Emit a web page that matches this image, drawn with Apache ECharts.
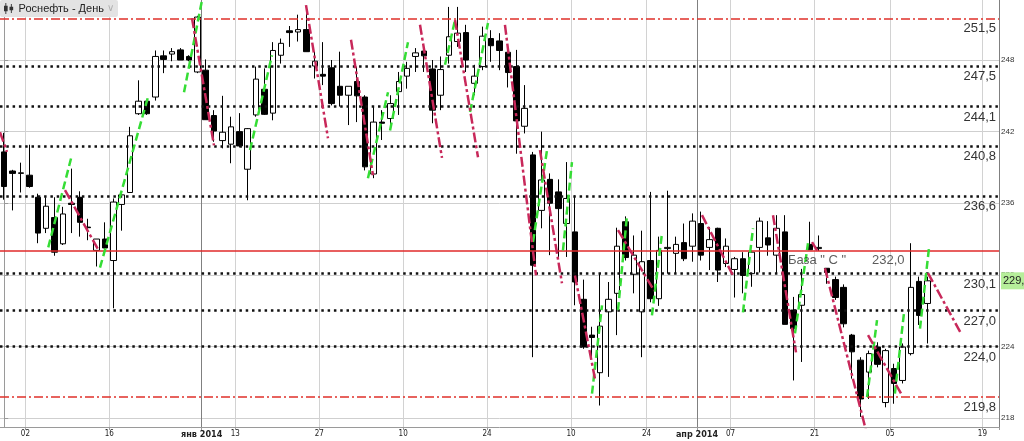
<!DOCTYPE html>
<html>
<head>
<meta charset="utf-8">
<title>Роснефть - День</title>
<script src="https://cdn.jsdelivr.net/npm/echarts@6/dist/echarts.min.js"></script>
<style>
  html, body { margin: 0; padding: 0; background: #fff; }
  #chart { width: 1024px; height: 441px; }
</style>
</head>
<body>
<div id="chart"></div>
<script>
// торговые дни (последние 8 - пустое место справа)
const dates = [
  '2013-11-27','2013-11-28','2013-11-29',
  '2013-12-02','2013-12-03','2013-12-04','2013-12-05','2013-12-06',
  '2013-12-09','2013-12-10','2013-12-11','2013-12-12','2013-12-13',
  '2013-12-16','2013-12-17','2013-12-18','2013-12-19','2013-12-20',
  '2013-12-23','2013-12-24','2013-12-25','2013-12-26','2013-12-27',
  '2013-12-30',
  '2014-01-03','2014-01-06','2014-01-09','2014-01-10',
  '2014-01-13','2014-01-14','2014-01-15','2014-01-16','2014-01-17',
  '2014-01-20','2014-01-21','2014-01-22','2014-01-23','2014-01-24',
  '2014-01-27','2014-01-28','2014-01-29','2014-01-30','2014-01-31',
  '2014-02-03','2014-02-04','2014-02-05','2014-02-06','2014-02-07',
  '2014-02-10','2014-02-11','2014-02-12','2014-02-13','2014-02-14',
  '2014-02-17','2014-02-18','2014-02-19','2014-02-20','2014-02-21',
  '2014-02-24','2014-02-25','2014-02-26','2014-02-27','2014-02-28',
  '2014-03-03','2014-03-04','2014-03-05','2014-03-06','2014-03-07',
  '2014-03-11','2014-03-12','2014-03-13','2014-03-14',
  '2014-03-17','2014-03-18','2014-03-19','2014-03-20','2014-03-21',
  '2014-03-24','2014-03-25','2014-03-26','2014-03-27','2014-03-28',
  '2014-03-31',
  '2014-04-01','2014-04-02','2014-04-03','2014-04-04',
  '2014-04-07','2014-04-08','2014-04-09','2014-04-10','2014-04-11',
  '2014-04-14','2014-04-15','2014-04-16','2014-04-17','2014-04-18',
  '2014-04-21','2014-04-22','2014-04-23','2014-04-24','2014-04-25',
  '2014-04-28','2014-04-29','2014-04-30','2014-05-02',
  '2014-05-05','2014-05-06','2014-05-07','2014-05-08','2014-05-12',
  '2014-05-13','2014-05-14','2014-05-15','2014-05-16','2014-05-17',
  '2014-05-18','2014-05-19','2014-05-20'
];

const open = [
  240.3, 238.7, 238.5, 238.35, 236.5, 233.9, 234.8, 232.6, 236.0, 236.5,
  234.0, 232.05, 233.0, 231.2, 235.9, 236.9, 243.5, 244.55, 244.9, 248.35,
  248.5, 248.85, 248.3, 247.0, 247.15, 243.35, 241.25, 240.95, 242.0, 238.85,
  243.4, 245.55, 243.55, 248.4, 250.45, 250.35, 250.55, 247.5, 246.8, 247.35,
  245.8, 245.05, 246.2, 244.9, 238.45, 242.8, 243.1, 245.35, 246.65, 248.3,
  248.75, 247.25, 245.05, 248.4, 249.55, 250.3, 246.05, 247.45, 249.8, 249.6,
  248.65, 247.45, 242.45, 240.05, 235.4, 238.0, 236.95, 234.3, 233.6, 227.95,
  224.95, 221.8, 226.9, 228.45, 234.45, 230.05, 226.9, 231.2, 228.0, 232.2,
  231.8, 232.7, 232.4, 234.3, 232.3, 233.9, 230.95, 230.45, 231.35, 230.1,
  232.3, 233.1, 231.65, 233.6, 227.05, 227.45, 232.55, 232.2, 230.55, 229.6,
  228.95, 224.95, 222.85, 221.85, 223.95, 219.3, 222.15, 221.15, 223.4, 229.45,
  227.6
];
const close = [
  237.4, 238.5, 238.55, 237.4, 233.5, 235.75, 231.9, 235.1, 235.9, 234.4,
  233.95, 233.0, 232.25, 236.1, 236.7, 241.65, 244.55, 243.5, 248.3, 248.05,
  248.7, 248.0, 248.0, 251.6, 243.0, 242.05, 241.95, 242.4, 240.8, 242.25,
  246.4, 243.45, 248.8, 249.4, 250.3, 250.55, 248.7, 247.9, 246.65, 244.35,
  245.05, 245.8, 245.0, 239.05, 242.8, 242.7, 244.35, 246.2, 247.3, 248.6,
  248.35, 243.8, 247.2, 249.95, 250.25, 248.0, 246.65, 250.0, 249.2, 248.8,
  246.95, 242.9, 243.95, 230.8, 237.95, 236.0, 235.55, 236.4, 229.4, 223.95,
  224.75, 225.7, 227.95, 232.4, 231.45, 231.65, 231.1, 228.0, 232.05, 232.3,
  232.55, 231.35, 234.5, 231.65, 232.95, 230.4, 232.4, 231.35, 229.95, 231.9,
  234.5, 232.5, 233.9, 225.85, 225.5, 228.35, 232.1, 232.3, 230.2, 228.1,
  225.9, 223.55, 219.6, 223.4, 222.5, 223.65, 220.9, 223.95, 228.95, 226.6,
  229.5
];
const low = [
  236.3, 235.4, 236.9, 237.3, 232.65, 233.5, 231.6, 232.5, 233.5, 233.2,
  232.9, 230.7, 232.1, 227.2, 233.7, 236.9, 243.4, 243.4, 244.6, 246.9,
  247.9, 248.0, 247.9, 246.9, 243.0, 241.15, 240.6, 239.35, 240.7, 236.25,
  243.25, 243.4, 242.95, 247.7, 249.1, 249.55, 248.7, 246.45, 245.9, 244.2,
  244.1, 242.55, 242.8, 238.75, 238.1, 241.3, 242.4, 243.4, 245.6, 247.0,
  247.0, 242.7, 243.8, 247.7, 249.1, 247.0, 245.05, 247.15, 247.85, 247.15,
  245.7, 240.15, 241.85, 223.1, 233.9, 231.65, 231.5, 231.5, 227.45, 223.8,
  223.1, 219.05, 221.45, 224.95, 231.2, 228.45, 223.1, 227.7, 227.4, 230.1,
  230.1, 231.15, 231.1, 231.2, 230.4, 229.4, 230.65, 228.1, 228.45, 229.0,
  230.2, 231.6, 230.1, 225.85, 221.15, 222.7, 232.1, 232.0, 229.25, 227.9,
  225.6, 221.3, 218.1, 219.6, 222.25, 218.9, 219.2, 220.9, 223.25, 225.8,
  224.25
];
const high = [
  241.9, 238.8, 239.4, 240.9, 236.8, 236.5, 236.5, 235.7, 238.9, 237.0,
  234.7, 233.0, 234.4, 236.4, 236.9, 242.4, 246.3, 244.6, 248.8, 248.8,
  249.0, 249.0, 248.4, 251.7, 248.05, 243.8, 245.0, 243.25, 243.55, 242.3,
  247.45, 247.3, 249.5, 249.8, 250.85, 251.8, 251.9, 248.7, 249.5, 248.0,
  248.7, 245.8, 247.45, 245.05, 244.1, 243.8, 245.05, 247.0, 247.85, 249.0,
  248.8, 248.0, 248.3, 252.45, 252.45, 250.95, 247.6, 250.8, 250.5, 250.25,
  248.85, 248.85, 245.9, 240.3, 242.0, 238.5, 238.0, 239.45, 236.65, 229.6,
  225.65, 230.1, 229.4, 233.95, 234.9, 233.3, 233.7, 236.95, 233.2, 237.05,
  233.2, 234.3, 235.15, 235.3, 234.0, 233.95, 233.05, 231.5, 231.9, 232.05,
  234.8, 234.5, 235.0, 235.0, 228.15, 230.5, 234.45, 233.3, 230.55, 229.85,
  229.2, 225.05, 223.1, 223.65, 224.35, 223.8, 222.55, 224.25, 232.65, 229.85,
  229.85
];

// подписи оси дат: [индекс дня, текст]
const dateTicks = [
  [3, '02'], [13, '16'], [24, 'янв 2014'], [28, '13'], [38, '27'], [48, '10'],
  [58, '24'], [68, '10'], [77, '24'], [83, 'апр 2014'], [87, '07'], [97, '21'],
  [106, '05'], [117, '19']
];
const monthStarts = [24, 83];
const priceTicks = [218, 224, 230, 236, 242, 248];

// уровни
const dottedLevels = [247.5, 244.1, 240.8, 236.6, 230.1, 227.0, 224.0];
const redLevels = [251.5, 219.8];
const baseLevel = 232.0;
const baseName = 'База " С "';

// волны: [индекс дня, цена] начало и конец
const upLegs = [
  [[5.25, 232.3], [7.96, 239.75]],
  [[11.41, 230.6], [17.13, 244.9]],
  [[21.42, 245.3], [23.56, 253.0]],
  [[29.28, 240.45], [31.9, 248.4]],
  [[43.33, 238.1], [45.72, 245.3]],
  [[45.96, 242.1], [48.1, 249.5]],
  [[52.51, 247.6], [53.7, 251.35]],
  [[55.49, 243.65], [57.63, 251.1]],
  [[62.99, 232.75], [64.66, 240.45]],
  [[66.56, 232.05], [67.63, 239.45]],
  [[70.02, 220.05], [71.21, 227.45]],
  [[73.12, 227.05], [74.19, 235.0]],
  [[77.16, 226.6], [78.36, 233.5]],
  [[88.0, 226.85], [89.2, 233.9]],
  [[94.2, 225.1], [95.75, 232.65]],
  [[102.78, 219.75], [103.97, 226.2]],
  [[106.1, 220.05], [107.18, 226.8]],
  [[109.09, 225.5], [110.16, 232.25]]
];
const downLegs = [
  [[-0.5, 241.95], [0.33, 240.3]],
  [[7.24, 237.1], [11.21, 232.1]],
  [[22.37, 251.5], [24.99, 240.85]],
  [[35.95, 252.6], [38.57, 241.45]],
  [[41.31, 249.7], [43.93, 238.35]],
  [[49.53, 250.95], [52.15, 239.8]],
  [[53.7, 251.35], [56.44, 239.85]],
  [[59.65, 250.95], [63.35, 229.95]],
  [[63.82, 240.45], [66.44, 229.3]],
  [[67.99, 229.95], [70.37, 221.3]],
  [[73.12, 233.75], [77.4, 228.7]],
  [[83.12, 235.0], [86.81, 229.95]],
  [[91.58, 235.0], [94.32, 223.5]],
  [[96.23, 232.75], [96.94, 231.9]],
  [[97.77, 230.55], [103.0, 216.0]],
  [[102.9, 224.95], [106.95, 219.9]],
  [[110.04, 230.15], [113.97, 225.1]]
];
// где начинаются подписи базы
const baseNoteAt = [93.36, 103.37];

const chart = echarts.init(document.getElementById('chart'));
const N = dates.length;
const fmt = v => v.toFixed(1).replace('.', ',');
const tickText = {};
dateTicks.forEach(t => { tickText[t[0]] = t[1]; });
const isTick = i => tickText[i] !== undefined;
const isMonth = i => monthStarts.indexOf(i) >= 0;
const candles = open.map((o, i) => [o, close[i], low[i], high[i]]);
const lastClose = close[close.length - 1];

const levelLabel = {
  show: true,
  position: 'insideEndBottom',
  distance: [3, 4],
  fontSize: 13,
  color: '#333',
  fontFamily: 'Liberation Sans, Arial, sans-serif',
  formatter: p => fmt(p.value)
};

chart.setOption({
  animation: false,
  backgroundColor: '#fff',
  grid: { left: 0, right: 25, top: 0, bottom: 14 },
  legend: {
    left: 0,
    top: 0,
    selectedMode: false,
    backgroundColor: '#e3e3e3',
    borderRadius: 2,
    padding: [3, 4, 3, 4],
    itemWidth: 10,
    itemHeight: 11,
    itemGap: 4,
    data: [{
      name: 'Роснефть - День',
      icon: 'path://M1.5,0h1v12h-1zM0,3h4v6h-4zM7.5,1h1v10h-1zM6,4h4v4h-4z',
      itemStyle: { color: '#333', borderWidth: 0 }
    }],
    formatter: n => n + ' {a|∨}',
    textStyle: {
      fontSize: 11,
      color: '#222',
      fontFamily: 'Liberation Sans, Arial, sans-serif',
      rich: { a: { color: '#b0b0b0', fontSize: 10 } }
    }
  },
  xAxis: [
    {
      type: 'category',
      data: dates,
      boundaryGap: true,
      axisLine: { lineStyle: { color: '#9a9a9a' } },
      axisTick: { show: true, interval: i => isTick(i), length: 3, lineStyle: { color: '#9a9a9a' } },
      axisLabel: {
        interval: i => isTick(i),
        formatter: (v, i) => isMonth(i) ? '{m|' + tickText[i] + '}' : tickText[i],
        fontSize: 8,
        color: '#222',
        margin: 3,
        padding: [0, 8, 0, 0],
        fontFamily: 'Liberation Sans Narrow, DejaVu Sans Condensed, sans-serif',
        rich: { m: { fontSize: 9, fontWeight: 'bold', color: '#222',
          fontFamily: 'Liberation Sans Narrow, DejaVu Sans Condensed, sans-serif' } }
      },
      splitLine: { show: true, interval: i => isTick(i) && !isMonth(i), lineStyle: { color: '#d2d2d2' } }
    },
    {
      // тёмные линии начала месяца
      type: 'category',
      data: dates,
      boundaryGap: true,
      axisLine: { show: false },
      axisTick: { show: false },
      axisLabel: { show: false },
      splitLine: { show: true, interval: i => isMonth(i), lineStyle: { color: '#808080' } }
    },
    { type: 'value', min: -0.5, max: N - 0.5, show: false }
  ],
  yAxis: {
    type: 'value',
    position: 'right',
    min: 217.25,
    max: 253.03,
    axisLine: { show: true, lineStyle: { color: '#9a9a9a' } },
    axisTick: { show: true, length: 4, customValues: priceTicks, lineStyle: { color: '#9a9a9a' } },
    axisLabel: { customValues: priceTicks, fontSize: 8, color: '#333', margin: 2 },
    splitLine: { show: true, lineStyle: { color: '#cfcfcf' } }
  },
  series: [
    {
      name: 'Роснефть - День',
      type: 'candlestick',
      xAxisIndex: 0,
      yAxisIndex: 0,
      barWidth: 6,
      data: candles,
      itemStyle: { color: '#fff', color0: '#000', borderColor: '#000', borderColor0: '#000', borderWidth: 1 },
      markLine: {
        symbol: 'none',
        silent: true,
        z: 8,
        data: [{ yAxis: lastClose }],
        lineStyle: { color: 'rgba(0,0,0,0)', width: 1 },
        label: {
          show: true,
          position: 'end',
          distance: 2,
          formatter: () => fmt(lastClose),
          backgroundColor: '#b6ee9a',
          color: '#222',
          fontSize: 11,
          padding: [3, 2, 3, 2]
        }
      }
    },
    {
      name: 'levels',
      type: 'line',
      xAxisIndex: 2,
      yAxisIndex: 0,
      data: [],
      z: 4,
      markLine: {
        symbol: 'none',
        silent: true,
        data: [
          ...dottedLevels.map(v => ({
            yAxis: v,
            lineStyle: { color: '#111', width: 2.5, type: [2.5, 3.8] },
            label: levelLabel
          })),
          ...redLevels.map(v => ({
            yAxis: v,
            lineStyle: { color: '#e0302a', width: 1.5, type: [9, 3, 2, 3] },
            label: levelLabel
          })),
          { yAxis: baseLevel, lineStyle: { color: '#e02a2a', width: 1.5, type: 'solid' }, label: { show: false } }
        ]
      }
    },
    {
      name: 'up',
      type: 'lines',
      coordinateSystem: 'cartesian2d',
      xAxisIndex: 2,
      yAxisIndex: 0,
      clip: true,
      silent: true,
      z: 6,
      lineStyle: { color: '#35dd35', width: 2.5, type: [8, 4], opacity: 1 },
      data: upLegs.map(c => ({ coords: c }))
    },
    {
      name: 'down',
      type: 'lines',
      coordinateSystem: 'cartesian2d',
      xAxisIndex: 2,
      yAxisIndex: 0,
      clip: true,
      silent: true,
      z: 6,
      lineStyle: { color: '#c8285a', width: 2.5, type: [10, 3, 3, 3], opacity: 1 },
      data: downLegs.map(c => ({ coords: c }))
    },
    {
      name: 'notes',
      type: 'scatter',
      xAxisIndex: 2,
      yAxisIndex: 0,
      symbolSize: 0,
      silent: true,
      z: 7,
      data: [
        { value: [baseNoteAt[0], baseLevel], label: { formatter: baseName } },
        { value: [baseNoteAt[1], baseLevel], label: { formatter: fmt(baseLevel) } }
      ],
      label: {
        show: true,
        position: [0, 3],
        align: 'left',
        verticalAlign: 'top',
        fontSize: 13,
        color: '#333',
        fontFamily: 'Liberation Sans, Arial, sans-serif'
      }
    }
  ]
});
</script>
</body>
</html>
